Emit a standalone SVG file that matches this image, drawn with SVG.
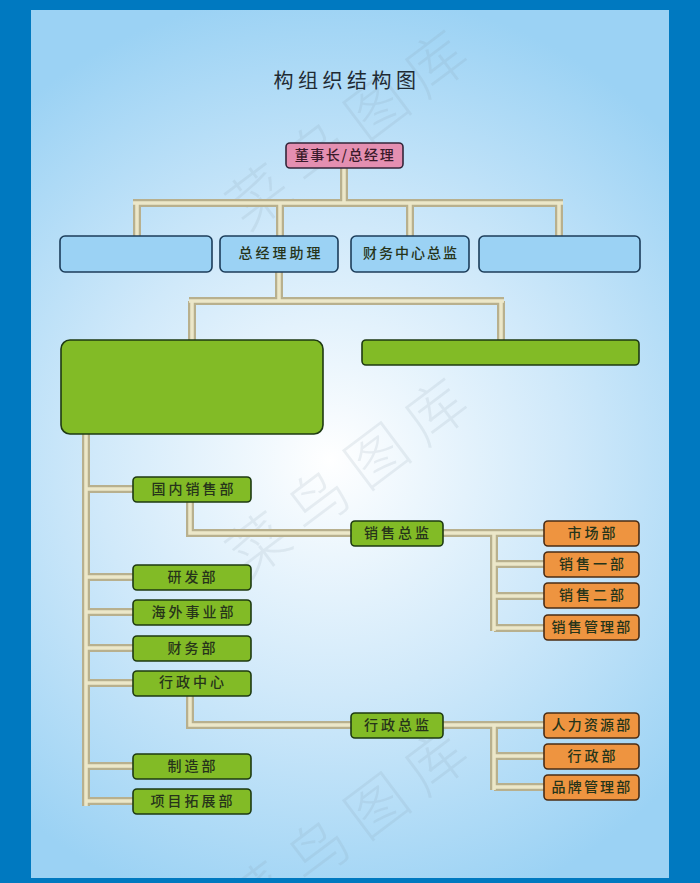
<svg xmlns="http://www.w3.org/2000/svg" xmlns:xlink="http://www.w3.org/1999/xlink" width="700" height="883" viewBox="0 0 700 883">
<style>
text{font-family:"Noto Sans CJK SC","Noto Sans",sans-serif;text-anchor:middle;dominant-baseline:central}
.lbl{font-size:14px;letter-spacing:3px;fill:#26341a;font-weight:500}
.n{stroke-width:1.6}
.pink{fill:#e48fb1;stroke:#33263a}
.blue{fill:#9bd2f4;stroke:#1c3d5a}
.green{fill:#82bb26;stroke:#1e3a12}
.orange{fill:#ee9440;stroke:#4a2c14}
.o{fill:none;stroke:#b8b08e;stroke-width:8}
.i{fill:none;stroke:#ece7c9;stroke-width:3.5}
.wm{font-size:60px;letter-spacing:14px;font-weight:300;fill:#7f93a6;fill-opacity:.14}
</style>
<defs>
<radialGradient id="bg" gradientUnits="userSpaceOnUse" cx="330" cy="460" r="470">
<stop offset="0" stop-color="#ffffff"/><stop offset=".5" stop-color="#d0e9fa"/><stop offset="1" stop-color="#9bd2f4"/>
</radialGradient>
<path id="wires" d="M344 168V203M133 203H563M137 203V236M280 203V236M410 203V236M559 203V236M279 272V301M189 301H504M192 301V340M501 301V340M86 434V806M86 489H133M86 577H133M86 612H133M86 648H133M86 683H133M86 766H133M86 801H133M190 502V533H351M443 533H544M494 533V631M494 564H544M494 596H544M494 628H544M190 696V725H351M443 725H544M494 725V790M494 756H544M494 787H544"/>
</defs>
<rect x="31" y="10" width="638" height="868" fill="url(#bg)"/>
<g id="watermark">
<text class="wm" transform="translate(350 122) rotate(-37)">菜鸟图库</text>
<text class="wm" transform="translate(350 470) rotate(-37)">菜鸟图库</text>
<text class="wm" transform="translate(350 820) rotate(-37)">菜鸟图库</text>
</g>
<path id="frame" fill="#0079c0" fill-rule="evenodd" d="M0 0H700V883H0ZM31 10V878H669V10Z"/>
<text id="title" x="347" y="79" font-size="20" letter-spacing="4.5" fill="#1f2a33">构组织结构图</text>
<g id="connectors"><use xlink:href="#wires" class="o"/><use xlink:href="#wires" class="i"/></g>
<g id="n-ceo"><rect class="n pink" x="286" y="143" width="117" height="25" rx="4"/><text class="lbl" x="345" y="154" style="fill:#3a1a2a;letter-spacing:1.6px">董事长/总经理</text></g>
<g id="n-b1"><rect class="n blue" x="60" y="236" width="152" height="36" rx="5"/></g>
<g id="n-b2"><rect class="n blue" x="220" y="236" width="118" height="36" rx="5"/><text class="lbl" x="281" y="252">总经理助理</text></g>
<g id="n-b3"><rect class="n blue" x="351" y="236" width="118" height="36" rx="5"/><text class="lbl" x="411" y="252" style="letter-spacing:2px">财务中心总监</text></g>
<g id="n-b4"><rect class="n blue" x="479" y="236" width="161" height="36" rx="5"/></g>
<g id="n-g1"><rect class="n green" x="61" y="340" width="262" height="94" rx="9"/></g>
<g id="n-g2"><rect class="n green" x="362" y="340" width="277" height="25" rx="4"/></g>
<g id="n-l1"><rect class="n green" x="133" y="477" width="118" height="25" rx="4"/><text class="lbl" x="194" y="488">国内销售部</text></g>
<g id="n-l2"><rect class="n green" x="133" y="565" width="118" height="25" rx="4"/><text class="lbl" x="193" y="576">研发部</text></g>
<g id="n-l3"><rect class="n green" x="133" y="600" width="118" height="25" rx="4"/><text class="lbl" x="194" y="611">海外事业部</text></g>
<g id="n-l4"><rect class="n green" x="133" y="636" width="118" height="25" rx="4"/><text class="lbl" x="193" y="647">财务部</text></g>
<g id="n-l5"><rect class="n green" x="133" y="671" width="118" height="25" rx="4"/><text class="lbl" x="193" y="681">行政中心</text></g>
<g id="n-l6"><rect class="n green" x="133" y="754" width="118" height="25" rx="4"/><text class="lbl" x="193" y="765">制造部</text></g>
<g id="n-l7"><rect class="n green" x="133" y="789" width="118" height="25" rx="4"/><text class="lbl" x="193" y="800">项目拓展部</text></g>
<g id="n-m1"><rect class="n green" x="351" y="521" width="92" height="25" rx="4"/><text class="lbl" x="398" y="532">销售总监</text></g>
<g id="n-m2"><rect class="n green" x="351" y="713" width="92" height="25" rx="4"/><text class="lbl" x="398" y="724">行政总监</text></g>
<g id="n-o1"><rect class="n orange" x="544" y="521" width="95" height="25" rx="4"/><text class="lbl" x="593" y="532">市场部</text></g>
<g id="n-o2"><rect class="n orange" x="544" y="552" width="95" height="25" rx="4"/><text class="lbl" x="593" y="563">销售一部</text></g>
<g id="n-o3"><rect class="n orange" x="544" y="583" width="95" height="25" rx="4"/><text class="lbl" x="593" y="594">销售二部</text></g>
<g id="n-o4"><rect class="n orange" x="544" y="615" width="95" height="25" rx="4"/><text class="lbl" x="592" y="626" style="letter-spacing:2.2px">销售管理部</text></g>
<g id="n-o5"><rect class="n orange" x="544" y="713" width="95" height="25" rx="4"/><text class="lbl" x="592" y="724" style="letter-spacing:2.2px">人力资源部</text></g>
<g id="n-o6"><rect class="n orange" x="544" y="744" width="95" height="25" rx="4"/><text class="lbl" x="593" y="755">行政部</text></g>
<g id="n-o7"><rect class="n orange" x="544" y="775" width="95" height="25" rx="4"/><text class="lbl" x="592" y="786" style="letter-spacing:2.2px">品牌管理部</text></g>
</svg>
